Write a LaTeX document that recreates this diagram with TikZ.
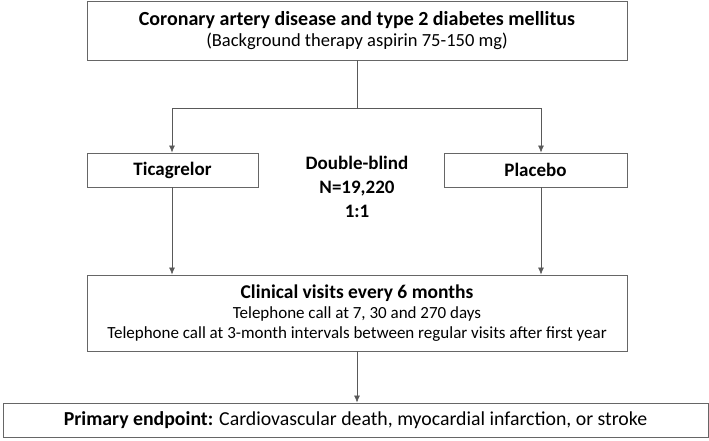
\documentclass[tikz,border=0pt]{standalone}
\usepackage{fontspec}
\setmainfont{Carlito}
\usetikzlibrary{arrows.meta,positioning}

\tikzset{
  box/.style={draw=black!60, line width=0.9pt, minimum height=34pt, inner sep=0pt, font=\fontsize{19}{21}\selectfont},
  link/.style={draw=black!65, line width=0.7pt},
  arr/.style={link, -{Latex[length=7pt,width=6pt]}}
}

\begin{document}
\begin{tikzpicture}[x=1pt,y=-1pt]
\useasboundingbox (0,0) rectangle (709,440);
\node [box, minimum width=540pt, minimum height=59pt, align=center] (cad) at (357,30.5)
  {\fontsize{20}{21}\selectfont\textbf{Coronary artery disease and type 2 diabetes mellitus}\\\fontsize{18.5}{21}\selectfont(Background therapy aspirin 75-150 mg)};
\node [box, minimum width=171pt] (tica) at (172.5,170) {\textbf{Ticagrelor}};
\node [box, minimum width=183pt] (plac) at (535.5,170) {\textbf{Placebo}};
\node [align=center, font=\fontsize{19}{24}\selectfont\bfseries] (blind) at (357,187) {Double-blind\\N=19,220\\1:1};
\node [box, minimum width=540pt, minimum height=76pt, align=center, font=\fontsize{17}{20}\selectfont] (visits) at (357,313)
  {\rule{0pt}{7pt}\fontsize{19.5}{20}\selectfont\textbf{Clinical visits every 6 months}\\Telephone call at 7, 30 and 270 days\\Telephone call at 3-month intervals between regular visits after first year};
\node [box, minimum width=705pt, font=\fontsize{19.8}{21}\selectfont] (endp) at (355.5,420)
  {\textbf{Primary endpoint:} Cardiovascular death, myocardial infarction, or stroke};
% split
\coordinate (lsplit) at (172,108);
\coordinate (rsplit) at (541,108);
\draw [link] (cad.south) -- (cad.south |- lsplit);
\draw [link] (lsplit) -- (rsplit);
\draw [arr] (lsplit) -- (tica.north -| lsplit);
\draw [arr] (rsplit) -- (plac.north -| rsplit);
\draw [arr] (tica.south -| lsplit) -- (visits.north -| lsplit);
\draw [arr] (plac.south -| rsplit) -- (visits.north -| rsplit);
\draw [arr] (visits.south) -- (endp.north -| visits.south);
\end{tikzpicture}
\end{document}
